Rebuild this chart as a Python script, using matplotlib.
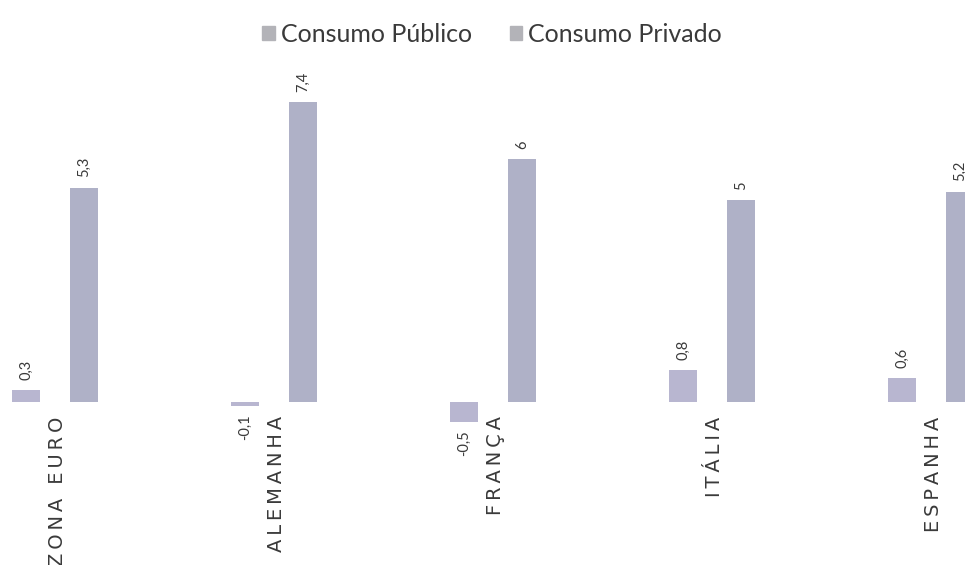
import numpy as np
import matplotlib.pyplot as plt

plt.rcParams['font.family'] = ['Lato', 'DejaVu Sans']

# Dados
paises = ['ZONA EURO', 'ALEMANHA', 'FRANÇA', 'ITÁLIA', 'ESPANHA']
consumo_publico = [0.3, -0.1, -0.5, 0.8, 0.6]
consumo_privado = [5.3, 7.4, 6.0, 5.0, 5.2]


def fmt(v):
    s = f"{v:.1f}".rstrip('0').rstrip('.')
    return s.replace('.', ',')


cor_pub = '#b8b6d0'
cor_priv = '#afb1c7'
cor_txt = '#3a3a3a'

fig = plt.figure(figsize=(9.65, 5.65), dpi=100)
ax = fig.add_axes([0, 0, 1, 1])

x = np.arange(len(paises))
w = 0.125
off = 0.132

b1 = ax.bar(x - off, consumo_publico, w, color=cor_pub, label='Consumo Público')
b2 = ax.bar(x + off, consumo_privado, w, color=cor_priv, label='Consumo Privado')

# rótulos de valor na vertical
for bars, vals in ((b1, consumo_publico), (b2, consumo_privado)):
    for b, v in zip(bars, vals):
        cx = b.get_x() + b.get_width() / 2
        if v >= 0:
            ax.text(cx, v + 0.25, fmt(v), rotation=90, ha='center', va='bottom',
                    fontsize=10.5, color=cor_txt)
        else:
            ax.text(cx, v - 0.2, fmt(v), rotation=90, ha='center', va='top',
                    fontsize=10.5, color=cor_txt)

# nomes dos países por baixo do eixo, com letras espaçadas
for i, p in enumerate(paises):
    ax.text(i + 0.01, -0.35, '\u2009'.join(p), rotation=90, ha='center', va='top',
            fontsize=14, color=cor_txt, family='DejaVu Sans')

ax.set_xlim(-0.251, 4.155)
ax.set_ylim(-4.02, 9.93)
ax.axis('off')

leg = fig.legend(loc='upper center', bbox_to_anchor=(0.51, 1.0), ncol=2,
                 frameon=False, fontsize=18, handlelength=0.5, handleheight=0.5,
                 handletextpad=0.25, columnspacing=1.5, labelcolor=cor_txt)
for h in leg.legend_handles:
    h.set_color('#b3b3b8')

fig.savefig('out.png', dpi=100)
